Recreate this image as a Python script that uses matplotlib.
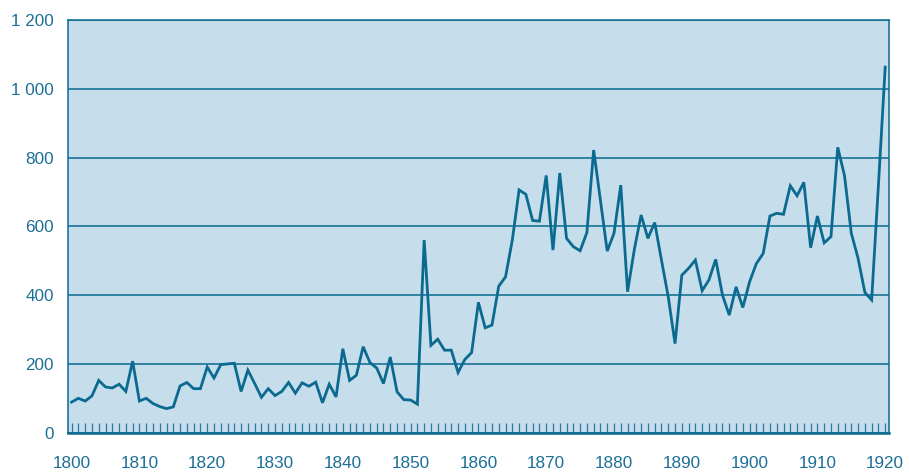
import matplotlib
matplotlib.use("Agg")
import matplotlib.pyplot as plt
from matplotlib.ticker import MultipleLocator

years = list(range(1800, 1921))
values = [
    89, 100, 92, 107, 152, 133, 130, 141, 120, 208,
    92, 100, 85, 76, 70, 75, 136, 146, 128, 128,
    191, 159, 198, 200, 202, 120, 182, 143, 103, 128,
    108, 120, 146, 115, 145, 135, 147, 87, 141, 104,
    244, 152, 167, 250, 204, 188, 143, 220, 119, 96,
    95, 83, 560, 254, 272, 240, 240, 175, 213, 233,
    379, 305, 313, 426, 453, 560, 706, 693, 617, 615,
    748, 531, 755, 565, 541, 529, 582, 822, 675, 528,
    580, 720, 410, 533, 633, 565, 611, 502, 395, 259,
    458, 478, 502, 413, 444, 504, 400, 342, 424, 364,
    439, 492, 521, 630, 638, 635, 718, 689, 728, 538,
    630, 552, 570, 830, 747, 580, 507, 408, 386, 720,
    1063,
]
x_ticks = [1800, 1810, 1820, 1830, 1840, 1850, 1860, 1870, 1880, 1890, 1900, 1910, 1920]
y_ticks = [0, 200, 400, 600, 800, 1000, 1200]
y_labels = ["0", "200", "400", "600", "800", "1 000", "1 200"]

plt.rcParams['font.family'] = ['Liberation Sans', 'DejaVu Sans']
LINE = "#0b6a8f"
BG = "#c6ddec"
TXT = "#1b6f97"

fig = plt.figure(figsize=(9.09, 4.73), dpi=100)
ax = fig.add_axes([0.0743, 0.0852, 0.9040, 0.8725])
ax.set_facecolor(BG)

for yv in y_ticks:
    ax.axhline(yv, color=LINE, lw=1.1, zorder=1)

ax.plot(years, values, color=LINE, lw=2.0, zorder=3, solid_joinstyle='miter')

ax.set_xlim(1799.4, 1920.6)
ax.set_ylim(0, 1200)

ax.set_xticks(x_ticks)
ax.set_xticklabels([str(t) for t in x_ticks])
ax.xaxis.set_minor_locator(MultipleLocator(1))
ax.tick_params(axis='x', which='both', direction='in', length=7, width=0.9,
               color="#2a7aa0", labelcolor=TXT, labelsize=12.3, pad=17, top=False)
ax.set_yticks(y_ticks)
ax.set_yticklabels(y_labels)
ax.tick_params(axis='y', length=0, labelcolor=TXT, labelsize=12.3, pad=10)

for side in ['left', 'right', 'top']:
    ax.spines[side].set_color(LINE)
    ax.spines[side].set_linewidth(1.1)
ax.spines['bottom'].set_color(LINE)
ax.spines['bottom'].set_linewidth(1.8)

fig.savefig("out.png", dpi=100)
